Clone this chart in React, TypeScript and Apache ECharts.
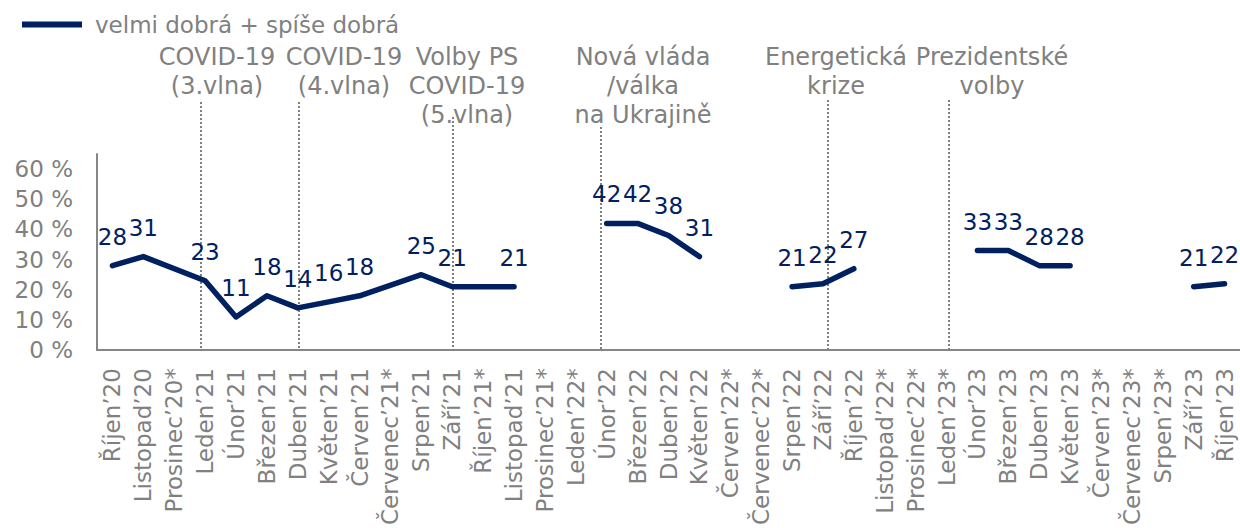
import React, { useEffect, useRef } from "react";
import * as echarts from "echarts";

const seriesName = "velmi dobrá + spíše dobrá";

const categories = [
  "Říjen’20", "Listopad’20", "Prosinec’20*", "Leden’21", "Únor’21", "Březen’21",
  "Duben’21", "Květen’21", "Červen’21", "Červenec’21*", "Srpen’21", "Září’21",
  "Říjen’21*", "Listopad’21", "Prosinec’21*", "Leden’22*", "Únor’22", "Březen’22",
  "Duben’22", "Květen’22", "Červen’22*", "Červenec’22*", "Srpen’22", "Září’22",
  "Říjen’22", "Listopad’22*", "Prosinec’22*", "Leden’23*", "Únor’23", "Březen’23",
  "Duben’23", "Květen’23", "Červen’23*", "Červenec’23*", "Srpen’23*", "Září’23",
  "Říjen’23",
];

const values: (number | null)[] = [
  28, 31, null, 23, 11, 18,
  14, 16, 18, null, 25, 21,
  null, 21, null, null, 42, 42,
  38, 31, null, null, 21, 22,
  27, null, null, null, 33, 33,
  28, 28, null, null, null, 21,
  22,
];

// continuous line segments (first index, last index)
const segments: [number, number][] = [
  [0, 13],
  [16, 19],
  [22, 24],
  [28, 31],
  [35, 36],
];

const eventLabels = [
  "COVID-19\n(3.vlna)",
  "COVID-19\n(4.vlna)",
  "Volby PS\nCOVID-19\n(5.vlna)",
  "Nová vláda\n/válka\nna Ukrajině",
  "Energetická\nkrize",
  "Prezidentské\nvolby",
];

const FONT = "'DejaVu Sans', Verdana, sans-serif";
const NAVY = "#002060";
const GRAY = "#808080";

// layout of annotations (pixels)
const eventLayout = [
  { tx: 217, lx: 201, ly: 102 },
  { tx: 344, lx: 299, ly: 102 },
  { tx: 467, lx: 453, ly: 117 },
  { tx: 643, lx: 601, ly: 127 },
  { tx: 836, lx: 828, ly: 100 },
  { tx: 992, lx: 949, ly: 100 },
];

export default function App() {
  const ref = useRef<HTMLDivElement>(null);

  useEffect(() => {
    document.body.style.margin = "0";
    if (!ref.current) return;
    const chart = echarts.init(ref.current, undefined, { renderer: "svg" });

    const graphic: any[] = [];
    eventLabels.forEach((txt, i) => {
      const L = eventLayout[i];
      graphic.push({
        type: "line",
        silent: true,
        shape: { x1: L.lx, y1: L.ly, x2: L.lx, y2: 350 },
        style: { stroke: GRAY, lineWidth: 2, lineDash: [2, 2] },
        z: 1,
      });
      graphic.push({
        type: "text",
        silent: true,
        x: L.tx,
        y: 42,
        style: {
          text: txt,
          textAlign: "center",
          textVerticalAlign: "top",
          font: `24px ${FONT}`,
          fill: GRAY,
          lineHeight: 29,
        },
        z: 2,
      });
    });

    const series = segments.map(([a, b]) => ({
      type: "line",
      name: seriesName,
      color: NAVY,
      data: values.map((v, i) => (i >= a && i <= b ? v : null)),
      connectNulls: true,
      symbol: "circle",
      symbolSize: 1,
      itemStyle: { color: NAVY },
      lineStyle: { color: NAVY, width: 5.5, cap: "round", join: "round" },
      label: {
        show: true,
        position: "top",
        distance: 17,
        color: NAVY,
        fontSize: 23,
        fontFamily: FONT,
      },
      z: 3,
    }));

    chart.setOption({
      animation: false,
      grid: { left: 97, right: 0, top: 154, bottom: 177, containLabel: false },
      legend: {
        left: 17,
        top: 8,
        itemWidth: 60,
        itemHeight: 6,
        icon: "rect",
        data: [{ name: seriesName, icon: "rect" }],
        textStyle: { color: GRAY, fontSize: 23, fontFamily: FONT, padding: [0, 0, 0, 8] },
      },
      xAxis: {
        type: "category",
        data: categories,
        boundaryGap: true,
        axisLine: { show: true, lineStyle: { color: "#868686", width: 2 } },
        axisTick: { show: false },
        axisLabel: {
          interval: 0,
          rotate: 90,
          color: GRAY,
          fontSize: 23,
          fontFamily: FONT,
          margin: 18,
        },
        splitLine: { show: false },
      },
      yAxis: {
        type: "value",
        min: 0,
        max: 65,
        interval: 10,
        axisLine: { show: true, lineStyle: { color: "#868686", width: 2 } },
        axisTick: { show: false },
        splitLine: { show: false },
        axisLabel: {
          color: GRAY,
          fontSize: 23,
          fontFamily: FONT,
          margin: 24,
          showMaxLabel: false,
          formatter: (v: number) => (v % 10 === 0 ? `${v} %` : ""),
        },
      },
      graphic,
      series,
    });

    return () => chart.dispose();
  }, []);

  return <div ref={ref} style={{ width: 1240, height: 528 }} />;
}
